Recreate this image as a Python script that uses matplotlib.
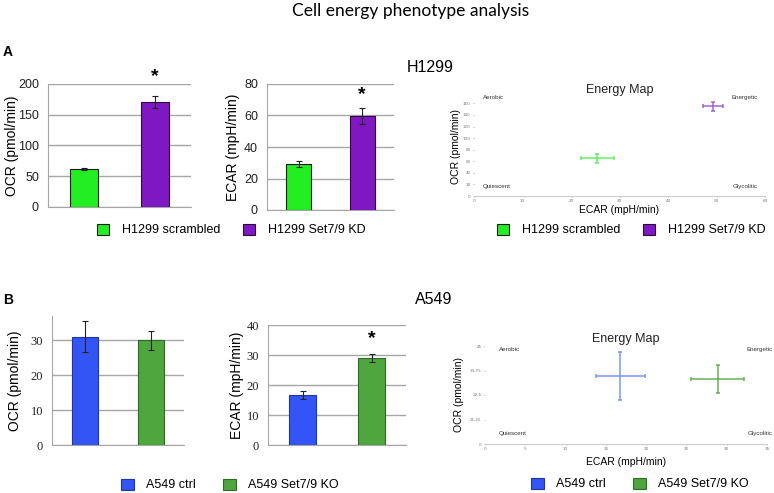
import matplotlib
matplotlib.use("Agg")
import matplotlib.pyplot as plt
from matplotlib.ticker import FixedLocator

# ---- data ----
groups_h = ['H1299 scrambled', 'H1299 Set7/9 KD']
ocr_h = [61.8, 170.7]
ocr_h_err = [1.0, 9.7]
ecar_h = [29.2, 59.7]
ecar_h_err = [1.9, 5.1]
map_h_ecar = [25.4, 49.3]
map_h_ecar_err = [3.4, 2.0]
map_h_ocr = [65.4, 154.8]
map_h_ocr_err = [8.0, 8.0]

groups_a = ['A549 ctrl', 'A549 Set7/9 KO']
ocr_a = [31.1, 30.0]
ocr_a_err = [4.4, 2.7]
ecar_a = [16.7, 29.0]
ecar_a_err = [1.3, 1.3]
map_a_ecar = [16.8, 28.9]
map_a_ecar_err = [3.0, 3.3]
map_a_ocr = [31.2, 29.8]
map_a_ocr_err = [11.0, 6.4]

map_h_yticks = [0, 20, 40, 60, 80, 100, 120, 140, 160]
map_h_xticks = [0, 10, 20, 30, 40, 50, 60]
map_a_yticks = [0, 11.25, 22.5, 33.75, 45]
map_a_ylabels = ['0', '11,25', '22,5', '33,75', '45']
map_a_xticks = [0, 5, 10, 15, 20, 25, 30, 35]

col_h = ['#22ee22', '#7f17c2']
edge_h = ['#1a1a1a', '#2a0a40']
col_a = ['#3355f5', '#4fa63f']
edge_a = ['#1f35a0', '#2f6a25']
map_col_h = ['#55ee55', '#9c55d0']
map_col_a = ['#6f8cf5', '#55aa44']

W, H = 774, 493
fig = plt.figure(figsize=(W / 100, H / 100), dpi=100)
SANS = 'Liberation Sans'


def add_ax(x0, y0, x1, y1):
    # pixel box (from top-left) -> figure fraction
    ax = fig.add_axes([x0 / W, 1 - y1 / H, (x1 - x0) / W, (y1 - y0) / H])
    ax.px = (x0, y0, x1, y1)
    return ax


def place_ylabel(ax, px_x):
    x0, y0, x1, y1 = ax.px
    ax.yaxis.set_label_coords((px_x - x0) / (x1 - x0), 0.5)


def place_xlabel(ax, px_y):
    x0, y0, x1, y1 = ax.px
    ax.xaxis.set_label_coords(0.5, (y1 - px_y) / (y1 - y0))


def bar_panel(ax, vals, errs, cols, edges, ymax, yticks, ylabel, lab_x, serif=False):
    x = range(len(vals))
    bars = ax.bar(x, vals, width=0.39, color=cols, edgecolor=edges, linewidth=0.8,
                  yerr=errs, capsize=2.5, error_kw=dict(elinewidth=0.8, capthick=0.8, ecolor='#222222'),
                  zorder=3)
    ax.set_xlim(-0.5, 1.5)
    ax.set_ylim(0, ymax)
    ax.set_yticks(yticks)
    ax.set_xticks([])
    ax.yaxis.grid(True, color='#a6a6a6', linewidth=1.0, zorder=0)
    for s in ['top', 'right']:
        ax.spines[s].set_visible(False)
    ax.spines['left'].set_color('#a6a6a6')
    ax.spines['bottom'].set_color('#a6a6a6')
    ax.tick_params(axis='y', length=0, pad=6.5, labelsize=9, colors='#222222')
    for lab in ax.get_yticklabels():
        lab.set_family('Liberation Serif' if serif else SANS)
    ax.set_ylabel(ylabel, fontsize=10, family=SANS, va='center')
    place_ylabel(ax, lab_x)
    return bars


def map_panel(ax, ex, exe, oy, oye, cols, xlim, ylim, xt, yt, ylabels, quad_y):
    for i in range(len(ex)):
        ax.errorbar(ex[i], oy[i], xerr=exe[i], yerr=oye[i], color=cols[i], lw=1.1,
                    capsize=1.5, capthick=1.1, alpha=0.9)
    ax.set_xlim(*xlim)
    ax.set_ylim(*ylim)
    ax.xaxis.set_major_locator(FixedLocator(xt))
    ax.set_yticks(yt)
    ax.set_yticklabels(ylabels)
    ax.tick_params(labelsize=3, colors='#777777', length=1, width=0.4, pad=1.5)
    for s in ['top', 'right', 'left']:
        ax.spines[s].set_visible(False)
    ax.spines['bottom'].set_color('#cccccc')
    ax.set_title('Energy Map', fontsize=9, family=SANS, color='#222222', pad=3)
    ax.set_xlabel('ECAR (mpH/min)', fontsize=7.5, family=SANS, va='center')
    ax.set_ylabel('OCR (pmol/min)', fontsize=7.5, family=SANS, va='center')
    qx0, qx1, qtop, qbot = quad_y
    kw = dict(transform=ax.transAxes, fontsize=4.5, family=SANS, color='#333333', va='center')
    ax.text(qx0, qtop, 'Aerobic', ha='left', **kw)
    ax.text(qx1, qtop, 'Energetic', ha='right', **kw)
    ax.text(qx0, qbot, 'Quiescent', ha='left', **kw)
    ax.text(qx1, qbot, 'Glycolitic', ha='right', **kw)


def legend_row(ax, handles, labels, cx, cy, spacing):
    leg = ax.legend(handles, labels, ncol=2, loc='center', bbox_to_anchor=(cx / W, 1 - cy / H),
                    bbox_transform=fig.transFigure, frameon=False,
                    handlelength=1.0, handleheight=1.0, handletextpad=1.0,
                    columnspacing=spacing, prop={'family': SANS, 'size': 9})
    return leg


# ---- panel A ----
ax1 = add_ax(48, 84, 191, 207)
b = bar_panel(ax1, ocr_h, ocr_h_err, col_h, edge_h, 200, [0, 50, 100, 150, 200], 'OCR (pmol/min)', 12)
ax1.text(1, 212, '*', ha='center', va='center', fontsize=14, fontweight='bold', family=SANS)
ax2 = add_ax(267, 84, 394, 210)
bar_panel(ax2, ecar_h, ecar_h_err, col_h, edge_h, 80, [0, 20, 40, 60, 80], 'ECAR (mpH/min)', 233)
ax2.text(1, 73, '*', ha='center', va='center', fontsize=14, fontweight='bold', family=SANS)
legend_row(ax1, b.patches, groups_h, 231, 230, 1.8)

ax3 = add_ax(474, 97, 765, 196)
map_panel(ax3, map_h_ecar, map_h_ecar_err, map_h_ocr, map_h_ocr_err, map_col_h,
          (0, 60), (0, 171), map_h_xticks, map_h_yticks, [str(v) for v in map_h_yticks],
          (0.03, 0.975, 0.99, 0.1))
place_ylabel(ax3, 456)
place_xlabel(ax3, 210)
legend_row(ax3, b.patches, groups_h, 631, 230, 1.8)

# ---- panel B ----
ax4 = add_ax(52, 316, 184, 445)
b2 = bar_panel(ax4, ocr_a, ocr_a_err, col_a, edge_a, 37, [0, 10, 20, 30], 'OCR (pmol/min)', 15, serif=True)
ax5 = add_ax(268, 325, 406, 445)
bar_panel(ax5, ecar_a, ecar_a_err, col_a, edge_a, 40, [0, 10, 20, 30, 40], 'ECAR (mpH/min)', 237, serif=True)
ax5.text(1, 35.5, '*', ha='center', va='center', fontsize=14, fontweight='bold', family=SANS)
legend_row(ax4, b2.patches, groups_a, 230, 485, 2.2)

ax6 = add_ax(485, 346, 767, 444)
map_panel(ax6, map_a_ecar, map_a_ecar_err, map_a_ocr, map_a_ocr_err, map_col_a,
          (0, 35), (0, 45), map_a_xticks, map_a_yticks, map_a_ylabels,
          (0.05, 1.02, 0.96, 0.11))
place_ylabel(ax6, 459)
place_xlabel(ax6, 462)
legend_row(ax6, b2.patches, groups_a, 640, 484, 2.2)

# ---- figure texts ----
fig.text(411 / W, 1 - 11 / H, 'Cell energy phenotype analysis', ha='center', va='center',
         fontsize=12.5, family='Lato')
fig.text(3 / W, 1 - 52 / H, 'A', ha='left', va='center', fontsize=10, fontweight='bold', family=SANS)
fig.text(3 / W, 1 - 300 / H, 'B', ha='left', va='center', fontsize=10, fontweight='bold', family=SANS)
fig.text(407 / W, 1 - 67 / H, 'H1299', ha='left', va='center', fontsize=11.5, family=SANS)
fig.text(415 / W, 1 - 299 / H, 'A549', ha='left', va='center', fontsize=11.5, family=SANS)

fig.savefig('out.png', dpi=100)
